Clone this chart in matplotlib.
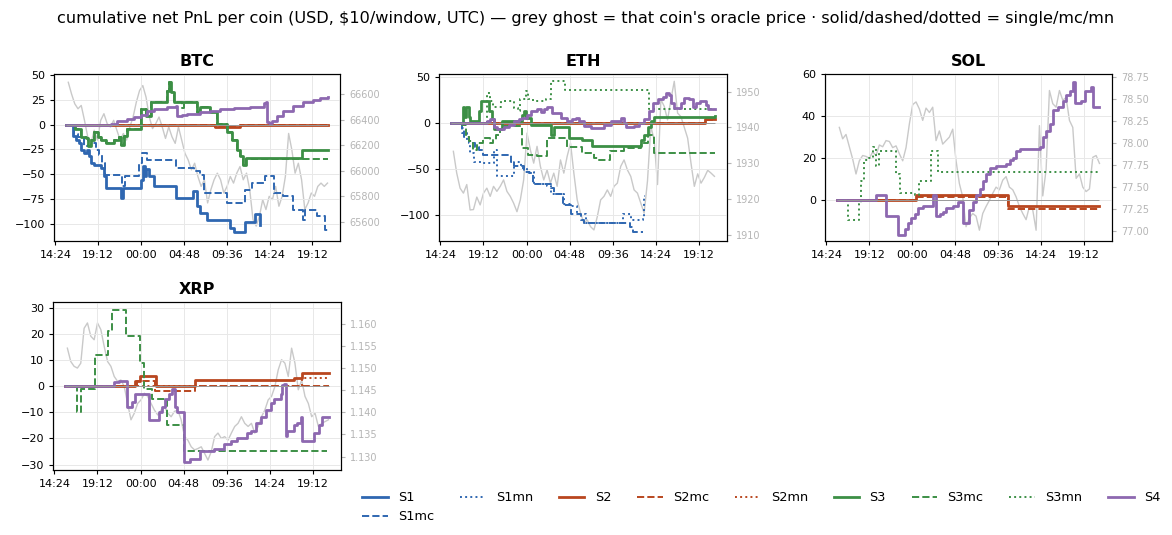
import datetime
import numpy as np
import matplotlib
matplotlib.use("Agg")
import matplotlib.pyplot as plt
import matplotlib.dates as mdates
from matplotlib.lines import Line2D
from matplotlib.ticker import MultipleLocator

TITLE = ("cumulative net PnL per coin (USD, $10/window, UTC) \u2014 grey ghost = that coin's "
         "oracle price \u00b7 solid/dashed/dotted = single/mc/mn")

# x values are hours since midnight of day 0 (24.0 = 00:00 next day)
DAY0 = mdates.date2num(datetime.datetime(2025, 1, 1))

# ---- oracle prices (evenly sampled between the span hours) ----
PRICE_SPAN = (15.85, 44.9)
BTC_PRICE = [66696, 66605, 66527, 66488, 66514, 66397, 66268, 66216, 66319, 66242,
             66397, 66449, 66371, 66345, 66397, 66319, 66242, 66294, 66242, 66345,
             66423, 66540, 66631, 66670, 66579, 66423, 66332, 66371, 66423, 66345,
             66255, 66345, 66268, 66216, 66345, 66242, 66138, 66086, 66008, 66060,
             65956, 65878, 65930, 65748, 65852, 65930, 65982, 65930, 65826, 65878,
             65956, 65904, 65982, 66034, 65930, 65982, 65852, 65618, 65566, 65644,
             65774, 65696, 65800, 65774, 65878, 65722, 65800, 65956, 66294, 66164,
             65982, 66060, 65930, 65696, 65748, 65826, 65800, 65878, 65904, 65878, 65904]
ETH_PRICE = [1933.3, 1927.2, 1923.0, 1921.6, 1924.0, 1916.9, 1917.0, 1920.5, 1918.3, 1921.6,
             1923.0, 1920.7, 1923.5, 1922.1, 1923.5, 1925.3, 1922.1, 1920.7, 1918.8, 1916.4,
             1919.7, 1925.3, 1938.4, 1933.7, 1930.0, 1934.7, 1929.1, 1925.3, 1928.1, 1924.4,
             1927.2, 1923.5, 1930.9, 1927.2, 1931.9, 1935.6, 1927.2, 1919.7, 1916.0, 1913.2,
             1914.1, 1912.2, 1911.3, 1915.0, 1919.7, 1920.7, 1922.5, 1920.7, 1923.5, 1924.4,
             1929.1, 1930.9, 1928.1, 1926.3, 1922.5, 1921.6, 1918.8, 1916.0, 1925.0, 1940.3,
             1936.5, 1924.0, 1947.8, 1945.9, 1942.1, 1947.8, 1952.9, 1944.0, 1943.0, 1940.0,
             1937.0, 1930.0, 1923.5, 1927.0, 1924.4, 1926.0, 1928.0, 1927.2, 1926.3]
SOL_PRICE = [78.18, 78.05, 78.10, 77.96, 77.82, 77.65, 77.80, 77.86, 77.85, 77.83,
             77.90, 77.86, 77.98, 77.96, 78.03, 78.02, 77.95, 77.97, 77.88, 77.80,
             77.95, 78.22, 78.44, 78.47, 78.39, 78.26, 78.40, 78.35, 78.41, 78.03,
             78.14, 77.99, 78.03, 78.07, 78.16, 77.80, 77.54, 77.39, 77.05, 77.15,
             77.20, 77.17, 77.01, 77.20, 77.28, 77.35, 77.43, 77.50, 77.47, 77.58,
             77.62, 77.50, 77.47, 77.39, 77.28, 77.20, 77.13, 77.28, 77.24, 77.01,
             78.20, 77.40, 77.70, 78.60, 78.45, 78.41, 78.60, 78.49, 78.52, 78.26,
             78.18, 77.60, 77.65, 77.50, 77.45, 77.48, 77.84, 77.86, 77.77]
XRP_PRICE = [1.1545, 1.1515, 1.1504, 1.1500, 1.1511, 1.1590, 1.1602, 1.1572, 1.1564, 1.1602,
             1.1587, 1.1549, 1.1515, 1.1504, 1.1481, 1.1470, 1.1473, 1.1458, 1.1420, 1.1383,
             1.1398, 1.1420, 1.1428, 1.1443, 1.1436, 1.1420, 1.1405, 1.1394, 1.1405, 1.1413,
             1.1398, 1.1390, 1.1402, 1.1405, 1.1383, 1.1345, 1.1337, 1.1322, 1.1315, 1.1318,
             1.1322, 1.1307, 1.1292, 1.1311, 1.1345, 1.1353, 1.1341, 1.1345, 1.1337, 1.1353,
             1.1368, 1.1375, 1.1390, 1.1375, 1.1368, 1.1375, 1.1353, 1.1368, 1.1390, 1.1405,
             1.1428, 1.1436, 1.1458, 1.1496, 1.1519, 1.1511, 1.1481, 1.1545, 1.1511, 1.1451,
             1.1473, 1.1436, 1.1420, 1.1390, 1.1398, 1.1368, 1.1375, 1.1379, 1.1383]

# ---- cumulative PnL step points: (hour, usd) ----
BTC_S1 = [(15.6, 0), (16.4, -11), (16.7, -16), (17.0, -19), (17.3, -26), (17.6, -29),
          (17.9, -26), (18.2, -32), (18.4, -39), (18.7, -41), (19.5, -44), (19.9, -52),
          (20.06, -64), (21.73, -74), (22.03, -64), (23.96, -56), (24.2, -42), (24.4, -52),
          (24.6, -45), (24.9, -52), (25.45, -62), (27.87, -74), (29.84, -67), (30.29, -82),
          (30.66, -89), (31.4, -96), (34.0, -104), (34.4, -108), (35.68, -98), (36.8, -90),
          (37.28, -101), (37.35, -101)]
BTC_S1MC = [(15.6, 0), (16.52, -9), (16.89, -12), (17.64, -22), (18.38, -19), (18.94, -26),
            (19.31, -31), (19.68, -39), (19.94, -51), (21.92, -62), (22.18, -52), (23.78, -39),
            (24.15, -29), (24.71, -36), (27.87, -44), (29.92, -47), (30.66, -51), (31.03, -69),
            (33.64, -79), (35.68, -66), (36.43, -59), (37.92, -52), (38.85, -69), (39.96, -72),
            (41.08, -86), (42.2, -96), (42.38, -86), (43.68, -92), (44.61, -106), (44.91, -106)]
BTC_S2 = [(15.6, 0), (32.33, -2), (35.13, 0), (44.91, 0)]
BTC_S2MC = [(15.6, 0), (32.33, -2), (35.13, 0), (44.91, 0)]
BTC_S3 = [(15.6, 0), (16.6, -4), (17.27, -12), (17.82, -14), (18.08, -22), (18.38, -16),
          (18.75, -7), (19.13, -12), (19.5, -16), (20.06, -19), (20.99, -16), (21.54, -12),
          (21.8, -21), (22.1, -11), (22.47, -4), (23.96, 16), (24.52, 9), (25.08, 23),
          (26.94, 34), (27.13, 43), (27.39, 33), (27.68, 23), (30.29, 13), (30.66, 18),
          (31.78, 13), (32.52, 1), (33.64, -7), (34.2, -16), (34.75, -26), (35.13, -32),
          (35.42, -41), (35.8, -34), (42.01, -26), (44.91, -26)]
BTC_S3MC = [(15.6, 0), (16.6, -4), (17.27, -12), (17.82, -14), (18.08, -22), (18.38, -16),
            (18.75, -7), (19.13, -12), (19.5, -16), (20.06, -19), (20.99, -16), (21.54, -12),
            (21.8, -21), (22.1, -11), (22.47, -4), (23.96, 16), (24.52, 9), (25.08, 23),
            (26.94, 34), (27.13, 43), (27.39, 33), (27.68, 23), (28.6, 17), (28.8, 23),
            (30.29, 13), (30.66, 18), (31.78, 13), (32.52, 1), (33.64, -7), (34.2, -16),
            (34.75, -26), (35.13, -32), (35.42, -41), (35.8, -35), (44.91, -35)]
BTC_S4 = [(15.6, 0), (20.6, 1), (21.36, 4), (22.47, 6), (23.22, 8), (23.96, 10), (24.71, 14),
          (25.45, 16), (26.94, 18), (27.87, 19), (28.06, 9), (28.61, 10), (29.17, 11),
          (30.66, 13), (31.78, 14), (32.89, 16), (34.38, 17), (36.24, 18), (37.73, 22),
          (38.03, 23), (38.1, 3), (38.29, 2), (38.66, 4), (39.22, 9), (39.96, 14), (41.08, 19),
          (42.2, 23), (43.31, 25), (44.06, 27), (44.91, 28)]

ETH_S1MC = [(15.63, 0), (16.82, -5), (17.0, -15), (17.6, -22), (18.3, -26), (18.7, -29),
            (19.2, -35), (22.0, -35), (22.3, -42), (22.6, -47), (23.7, -53), (24.3, -55),
            (24.7, -66), (26.2, -66), (26.7, -71), (27.1, -78), (28.0, -89), (28.9, -99),
            (30.0, -106), (30.4, -109), (34.5, -109), (35.5, -113), (35.8, -119), (36.9, -119)]
ETH_S1MN = [(15.63, 0), (16.82, -11), (17.38, -18), (17.75, -33), (18.12, -42), (19.05, -44),
            (20.35, -29), (20.73, -58), (22.59, -42), (23.33, -49), (24.07, -53), (24.82, -66),
            (26.31, -69), (26.68, -77), (27.42, -78), (28.17, -88), (28.91, -91), (29.66, -99),
            (30.59, -109), (34.49, -109), (34.68, -99), (35.61, -106), (36.91, -104),
            (37.1, -80), (37.2, -80)]
ETH_S2 = [(15.63, 0), (43.8, 4), (44.91, 4)]
ETH_S2MC = [(15.63, 0), (43.8, 3), (44.91, 3)]
ETH_S3 = [(15.63, 0), (16.82, 0), (16.93, 18), (17.08, 7), (17.3, 18), (17.56, 7), (17.75, 2),
          (18.68, 13), (18.87, 24), (19.8, 13), (20.17, 4), (20.35, -7), (21.28, 2),
          (22.96, 2), (23.52, 9), (23.7, 13), (23.89, 5), (24.45, -2), (26.68, -13),
          (27.05, -4), (28.73, -16), (30.21, -18), (31.33, -25), (36.73, -18), (37.1, -13),
          (37.47, -4), (37.84, 2), (38.21, 7), (44.91, 8)]
ETH_S3MC = [(15.63, 0), (16.82, -2), (17.2, -15), (17.6, -20), (18.0, -29), (18.5, -22),
            (19.2, -16), (19.9, -22), (20.3, -18), (20.6, -13), (21.0, -7), (21.5, -3),
            (22.8, -3), (23.5, -27), (24.1, -35), (25.2, -36), (26.3, -16), (28.5, -26),
            (30.2, -33), (31.5, -38), (31.9, -40), (33.3, -31), (34.8, -27), (36.7, -22),
            (37.5, -13), (38.2, -33), (44.91, -33)]
ETH_S3MN = [(15.63, 0), (19.5, 0), (19.6, 33), (19.9, 24), (20.3, 18), (21.1, 24), (22.6, 16),
            (23.0, 13), (23.3, 26), (23.9, 35), (24.2, 26), (24.7, 24), (26.2, 26), (26.7, 46),
            (28.3, 36), (37.4, 36), (37.6, 15), (44.91, 15)]
ETH_S4 = [(15.63, 0), (19.61, 2), (19.98, 4), (20.35, -4), (20.73, -7), (21.47, -4), (22.03, -2),
          (22.59, 2), (23.14, 4), (23.52, 5), (24.07, 9), (24.45, 13), (25.19, 15), (25.56, 12),
          (25.93, 15), (26.31, 18), (26.87, 11), (27.8, 5), (28.54, 2), (29.1, 4), (29.47, 5),
          (29.84, 2), (30.4, -3), (31.14, -5), (32.63, -2), (33.38, 2), (34.49, 5), (34.87, 0),
          (35.05, -4), (35.98, -3), (36.54, 0), (37.1, 4), (37.66, 13), (38.03, 22), (38.59, 26),
          (39.14, 29), (39.52, 33), (39.89, 31), (40.07, 22), (40.45, 16), (41.19, 22),
          (41.56, 27), (42.12, 26), (42.49, 18), (42.87, 22), (43.24, 24), (43.98, 20),
          (44.17, 15), (44.91, 15)]

SOL_S2 = [(15.59, 0), (24.45, 2), (34.68, -3), (44.84, -3)]
SOL_S2MC = [(15.59, 0), (24.45, 1), (34.68, -4.5), (44.84, -4.5)]
SOL_S3MN = [(15.59, 0), (16.82, -10), (18.1, -2), (18.3, 9), (18.6, 19), (19.1, 20), (19.6, 25),
            (20.0, 16), (20.3, 23), (22.2, 12), (22.6, 3), (24.3, 2), (24.8, 9), (26.1, 23),
            (26.9, 13), (44.84, 13)]
SOL_S4 = [(15.59, 0), (19.98, 2), (21.1, -8), (22.4, -17), (23.14, -14), (23.52, -11),
          (23.89, -9), (24.26, -7), (24.63, -4), (25.19, -3), (26.3, 2), (26.68, -8),
          (27.05, -7), (27.42, -6), (27.8, -4), (28.5, -3), (29.1, -1), (29.66, -11),
          (30.3, -5), (30.77, -1), (31.14, 2), (31.52, 5), (31.89, 9), (32.26, 12), (32.63, 15),
          (33.38, 16), (34.49, 17), (34.87, 19), (35.24, 20), (35.61, 23), (35.98, 24),
          (38.21, 25), (38.59, 30), (38.96, 33), (39.4, 36), (39.7, 43), (40.26, 44),
          (40.82, 47), (41.19, 50), (41.56, 52), (41.93, 56), (42.12, 46), (42.87, 47),
          (43.24, 52), (43.98, 54), (44.17, 44), (44.84, 44)]

XRP_S2 = [(15.59, 0), (23.4, 2), (23.89, 4), (25.75, 0), (30.1, 2.4), (41.08, 3), (42.01, 5),
          (44.91, 5)]
XRP_S2MC = [(15.59, 0), (23.6, 2), (25.6, -2), (30.1, 0), (44.91, 0)]
XRP_S2MN = [(15.59, 0), (42.01, 3), (44.91, 3)]
XRP_S3MC = [(15.59, 0), (16.89, -10), (17.38, -1), (18.94, 12), (20.32, 21), (20.87, 29),
            (22.36, 19), (23.89, 9), (24.41, -1), (25.26, -5), (26.94, -15), (28.8, -25),
            (44.73, -25)]
XRP_S4 = [(15.59, 0), (20.99, 1.4), (21.54, 2), (22.47, -8), (23.03, -6), (23.4, -3),
          (24.89, -13), (26.01, -10), (26.38, -8), (26.75, -5), (27.13, -3), (27.5, -1),
          (27.87, -8), (28.06, -10), (28.8, -29), (29.54, -28), (30.66, -25), (32.15, -24),
          (33.27, -22), (34.01, -21), (34.75, -20), (35.87, -18), (36.24, -17), (36.8, -14),
          (37.36, -12), (37.92, -9), (38.47, -6.5), (38.85, -5), (39.59, -3), (39.78, 0.5),
          (39.96, 1), (40.15, -19), (40.33, -17), (41.08, -15), (41.45, -14), (41.82, -12),
          (42.01, -21), (42.94, -21), (43.31, -18), (43.87, -15), (44.24, -12), (44.91, -12)]

BLUE, ORANGE, GREEN, PURPLE = "#2f67b1", "#b9461f", "#3c8f45", "#8d68b0"
STYLES = {
    "S1": (BLUE, "-", 2.0), "S1mc": (BLUE, "--", 1.4), "S1mn": (BLUE, ":", 1.4),
    "S2": (ORANGE, "-", 2.0), "S2mc": (ORANGE, "--", 1.4), "S2mn": (ORANGE, ":", 1.4),
    "S3": (GREEN, "-", 2.0), "S3mc": (GREEN, "--", 1.4), "S3mn": (GREEN, ":", 1.4),
    "S4": (PURPLE, "-", 2.0),
}

W, H = 1172, 535
fig = plt.figure(figsize=(W / 100, H / 100), dpi=100)
fig.text(0.5, 1 - 18 / H, TITLE, ha="center", va="center", fontsize=11.6)


def px_rect(left, right, top, bottom):
    return [left / W, 1 - bottom / H, (right - left) / W, (bottom - top) / H]


def to_x(hours):
    return DAY0 + np.asarray(hours, dtype=float) / 24.0


def panel(rect, coin, price, price_lim, price_step, pnl_lim, pnl_step, series):
    ax = fig.add_axes(rect)
    ghost = ax.twinx()
    tp = to_x(np.linspace(PRICE_SPAN[0], PRICE_SPAN[1], len(price)))
    ghost.plot(tp, price, color="#c9c9c9", lw=1.0)
    ghost.set_ylim(*price_lim)
    ghost.yaxis.set_major_locator(MultipleLocator(price_step))
    ghost.tick_params(labelsize=7, colors="#b5b5b5", length=3)

    ax.set_zorder(ghost.get_zorder() + 1)
    ax.patch.set_visible(False)

    t_all = [p[0] for pts in series.values() for p in pts]
    for name, pts in series.items():
        color, ls, lw = STYLES[name]
        t = to_x([p[0] for p in pts])
        v = [p[1] for p in pts]
        ax.step(t, v, where="post", color=color, ls=ls, lw=lw, zorder=2)
    ax.hlines(0, to_x(min(t_all)), to_x(max(t_all)), color="#9a9a9a", lw=0.7, zorder=3)

    ax.set_xlim(to_x(14.25), to_x(46.3))
    ax.set_ylim(*pnl_lim)
    ax.yaxis.set_major_locator(MultipleLocator(pnl_step))
    ax.xaxis.set_major_locator(MultipleLocator(0.2))
    ax.xaxis.set_major_formatter(mdates.DateFormatter("%H:%M"))
    ax.tick_params(labelsize=8, length=3)
    ax.grid(True, color="#e8e8e8", lw=0.7)
    ax.set_title(coin, fontsize=11.5, fontweight="bold")
    return ax


panel(px_rect(54, 340, 74, 241), "BTC", BTC_PRICE, (65449, 66761), 200, (-117.3, 51), 25,
      {"S1": BTC_S1, "S1mc": BTC_S1MC, "S2": BTC_S2, "S2mc": BTC_S2MC,
       "S3": BTC_S3, "S3mc": BTC_S3MC, "S4": BTC_S4})
panel(px_rect(439, 727, 74, 241), "ETH", ETH_PRICE, (1908.2, 1954.95), 10, (-128.8, 53.6), 50,
      {"S1mc": ETH_S1MC, "S1mn": ETH_S1MN, "S2": ETH_S2, "S2mc": ETH_S2MC,
       "S3": ETH_S3, "S3mc": ETH_S3MC, "S3mn": ETH_S3MN, "S4": ETH_S4})
panel(px_rect(825, 1112, 74, 241), "SOL", SOL_PRICE, (76.887, 78.788), 0.25, (-19.8, 60), 20,
      {"S2": SOL_S2, "S2mc": SOL_S2MC, "S3mn": SOL_S3MN, "S4": SOL_S4})
panel(px_rect(53, 341, 302, 470), "XRP", XRP_PRICE, (1.12695, 1.16494), 0.005, (-32.1, 32.2), 10,
      {"S2": XRP_S2, "S2mc": XRP_S2MC, "S2mn": XRP_S2MN, "S3mc": XRP_S3MC, "S4": XRP_S4})

handles = [Line2D([], [], color=c, ls=ls, lw=lw) for c, ls, lw in STYLES.values()]
fig.legend(handles, list(STYLES.keys()), loc="lower right", ncol=9, fontsize=9.25,
           frameon=False)

fig.savefig("out.png", dpi=100)
